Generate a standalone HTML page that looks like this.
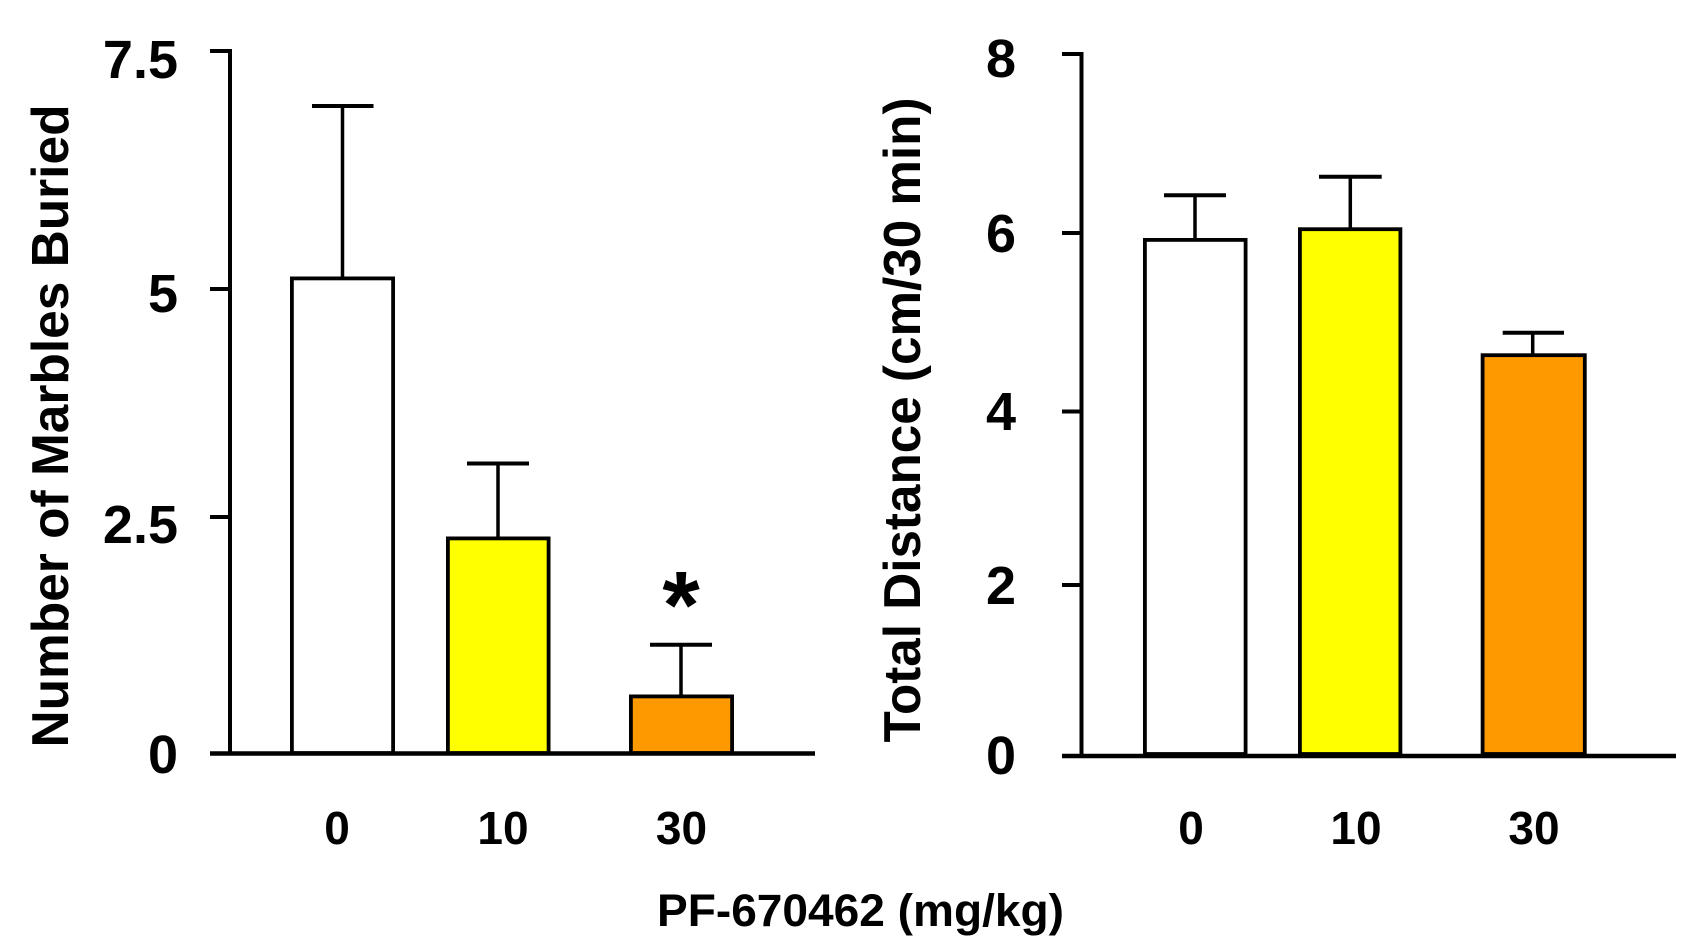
<!DOCTYPE html>
<html>
<head>
<meta charset="utf-8">
<style>
  html, body { margin: 0; padding: 0; background: #ffffff; }
  body { width: 1706px; height: 944px; overflow: hidden; }
  svg { display: block; }
  text { font-family: "Liberation Sans", Arial, sans-serif; font-weight: bold; fill: #000; }
</style>
</head>
<body>
<svg width="1706" height="944" viewBox="0 0 1706 944" xmlns="http://www.w3.org/2000/svg">
  <rect x="0" y="0" width="1706" height="944" fill="#ffffff"/>

  <!-- ============ LEFT CHART ============ -->
  <g stroke="#000" fill="none" stroke-linecap="butt">
    <line x1="230" y1="49" x2="230" y2="755.5" stroke-width="4"/>
    <line x1="210" y1="51" x2="232" y2="51" stroke-width="4"/>
    <line x1="210" y1="289" x2="232" y2="289" stroke-width="4"/>
    <line x1="210" y1="517" x2="232" y2="517" stroke-width="4"/>
    <line x1="210" y1="753.5" x2="815" y2="753.5" stroke-width="4.5"/>
  </g>

  <g stroke="#000" stroke-width="3.5">
    <line x1="342.5" y1="106" x2="342.5" y2="277"/>
    <line x1="498" y1="463.5" x2="498" y2="537"/>
    <line x1="681" y1="644.7" x2="681" y2="695"/>
  </g>
  <g stroke="#000" stroke-width="4">
    <line x1="312" y1="106" x2="373.5" y2="106"/>
    <line x1="467" y1="463.5" x2="529" y2="463.5"/>
    <line x1="650" y1="644.7" x2="712" y2="644.7"/>
  </g>
  <g stroke="#000" stroke-width="3.8">
    <rect x="291.9" y="278.4" width="101.2" height="474.6" fill="#ffffff"/>
    <rect x="447.9" y="538.4" width="100.7" height="214.6" fill="#ffff00"/>
    <rect x="630.9" y="696.4" width="101.2" height="56.6" fill="#ff9900"/>
  </g>

  <!-- asterisk -->
  <text x="681" y="638" font-size="96" text-anchor="middle">*</text>

  <g font-size="54" text-anchor="end">
    <text x="178" y="78">7.5</text>
    <text x="178" y="312">5</text>
    <text x="178" y="543">2.5</text>
    <text x="178" y="773">0</text>
  </g>

  <g font-size="46" text-anchor="middle">
    <text x="337" y="844">0</text>
    <text x="503" y="844">10</text>
    <text x="681.5" y="844">30</text>
  </g>

  <text transform="translate(68,426) rotate(-90)" font-size="52" text-anchor="middle" textLength="643" lengthAdjust="spacingAndGlyphs">Number of Marbles Buried</text>

  <!-- ============ RIGHT CHART ============ -->
  <g stroke="#000" fill="none">
    <line x1="1081.5" y1="52" x2="1081.5" y2="758" stroke-width="4"/>
    <line x1="1062" y1="54" x2="1083.5" y2="54" stroke-width="4"/>
    <line x1="1062" y1="233" x2="1083.5" y2="233" stroke-width="4"/>
    <line x1="1062" y1="411.5" x2="1083.5" y2="411.5" stroke-width="4"/>
    <line x1="1062" y1="585" x2="1083.5" y2="585" stroke-width="4"/>
    <line x1="1062" y1="756" x2="1676" y2="756" stroke-width="4.5"/>
  </g>

  <g stroke="#000" stroke-width="3.5">
    <line x1="1195" y1="195.3" x2="1195" y2="239"/>
    <line x1="1350.3" y1="176.7" x2="1350.3" y2="228"/>
    <line x1="1532.7" y1="332.7" x2="1532.7" y2="354"/>
  </g>
  <g stroke="#000" stroke-width="4">
    <line x1="1164" y1="195.3" x2="1226" y2="195.3"/>
    <line x1="1319" y1="176.7" x2="1381.7" y2="176.7"/>
    <line x1="1502.7" y1="332.7" x2="1564" y2="332.7"/>
  </g>
  <g stroke="#000" stroke-width="3.8">
    <rect x="1144.9" y="239.9" width="100.7" height="514.1" fill="#ffffff"/>
    <rect x="1299.9" y="229.2" width="100.5" height="524.8" fill="#ffff00"/>
    <rect x="1482.6" y="355.2" width="102.2" height="398.8" fill="#ff9900"/>
  </g>

  <g font-size="54" text-anchor="end">
    <text x="1016" y="77">8</text>
    <text x="1016" y="252">6</text>
    <text x="1016" y="430">4</text>
    <text x="1016" y="604">2</text>
    <text x="1016" y="774">0</text>
  </g>

  <g font-size="46" text-anchor="middle">
    <text x="1191" y="844">0</text>
    <text x="1356" y="844">10</text>
    <text x="1534" y="844">30</text>
  </g>

  <text transform="translate(920,420) rotate(-90)" font-size="52" text-anchor="middle" textLength="645" lengthAdjust="spacingAndGlyphs">Total Distance (cm/30 min)</text>

  <text x="657" y="926" font-size="45" textLength="407" lengthAdjust="spacingAndGlyphs">PF-670462 (mg/kg)</text>
</svg>
</body>
</html>
